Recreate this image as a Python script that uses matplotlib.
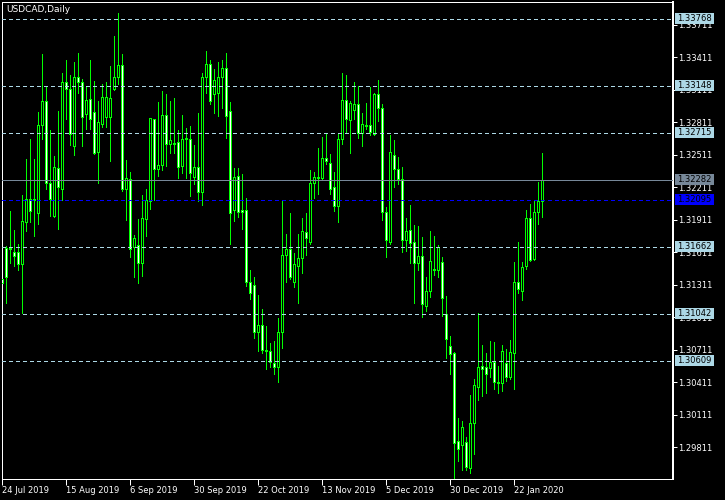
import matplotlib
matplotlib.use("Agg")
import matplotlib.pyplot as plt
from matplotlib.patches import Rectangle
import pandas as pd

title = "USDCAD,Daily"

# trading days (Christmas / New Year closed)
dates = pd.bdate_range("2019-07-24", "2020-01-31")
dates = dates[~dates.isin(pd.to_datetime(["2019-12-25", "2020-01-01"]))]

opens = [1.3136, 1.3165, 1.3165, 1.3161, 1.3161, 1.3150, 1.3189, 1.3210, 1.3210, 1.3197,
         1.3279, 1.3301, 1.3225, 1.3195, 1.3239, 1.3220, 1.3318, 1.3312, 1.3259, 1.3323,
         1.3318, 1.3289, 1.3303, 1.3291, 1.3254, 1.3280, 1.3286, 1.3286, 1.3312, 1.3323,
         1.3334, 1.3220, 1.3229, 1.3166, 1.3168, 1.3151, 1.3192, 1.3208, 1.3284, 1.3238,
         1.3242, 1.3288, 1.3261, 1.3261, 1.3263, 1.3241, 1.3266, 1.3266, 1.3231, 1.3240,
         1.3217, 1.3323, 1.3335, 1.3307, 1.3308, 1.3323, 1.3331, 1.3292, 1.3200, 1.3232,
         1.3200, 1.3200, 1.3134, 1.3131, 1.3087, 1.3094, 1.3071, 1.3070, 1.3059, 1.3055,
         1.3087, 1.3159, 1.3164, 1.3134, 1.3148, 1.3156, 1.3180, 1.3171, 1.3225, 1.3231,
         1.3230, 1.3248, 1.3244, 1.3221, 1.3204, 1.3266, 1.3302, 1.3283, 1.3293, 1.3298,
         1.3271, 1.3279, 1.3279, 1.3270, 1.3307, 1.3294, 1.3198, 1.3171, 1.3251, 1.3238,
         1.3229, 1.3172, 1.3182, 1.3171, 1.3151, 1.3158, 1.3111, 1.3125, 1.3146, 1.3145,
         1.3152, 1.3104, 1.3074, 1.3068, 1.2987, 1.2983, 1.2986, 1.2962, 1.3003, 1.3037,
         1.3056, 1.3055, 1.3054, 1.3060, 1.3041, 1.3040, 1.3059, 1.3046, 1.3068, 1.3134,
         1.3125, 1.3148, 1.3193, 1.3155, 1.3198, 1.3208]
highs = [1.3139, 1.3167, 1.3199, 1.3182, 1.3169, 1.3214, 1.3247, 1.3266, 1.3247, 1.3291,
         1.3344, 1.3314, 1.3274, 1.3250, 1.3292, 1.3327, 1.3339, 1.3325, 1.3337, 1.3345,
         1.3321, 1.3314, 1.3339, 1.3319, 1.3301, 1.3317, 1.3318, 1.3333, 1.3361, 1.3382,
         1.3344, 1.3246, 1.3235, 1.3177, 1.3192, 1.3214, 1.3220, 1.3285, 1.3284, 1.3300,
         1.3310, 1.3307, 1.3301, 1.3304, 1.3274, 1.3288, 1.3276, 1.3278, 1.3260, 1.3290,
         1.3327, 1.3347, 1.3339, 1.3330, 1.3337, 1.3339, 1.3345, 1.3300, 1.3239, 1.3239,
         1.3233, 1.3211, 1.3145, 1.3138, 1.3122, 1.3109, 1.3093, 1.3077, 1.3079, 1.3100,
         1.3208, 1.3178, 1.3197, 1.3160, 1.3178, 1.3193, 1.3197, 1.3237, 1.3235, 1.3257,
         1.3268, 1.3271, 1.3252, 1.3235, 1.3271, 1.3327, 1.3325, 1.3301, 1.3318, 1.3315,
         1.3290, 1.3299, 1.3314, 1.3308, 1.3320, 1.3298, 1.3203, 1.3269, 1.3265, 1.3249,
         1.3240, 1.3193, 1.3205, 1.3186, 1.3185, 1.3175, 1.3138, 1.3181, 1.3176, 1.3168,
         1.3157, 1.3121, 1.3084, 1.3069, 1.3008, 1.3005, 1.2990, 1.3029, 1.3044, 1.3105,
         1.3075, 1.3068, 1.3079, 1.3078, 1.3056, 1.3075, 1.3072, 1.3080, 1.3152, 1.3171,
         1.3152, 1.3200, 1.3206, 1.3209, 1.3226, 1.3253]
lows = [1.3130, 1.3114, 1.3151, 1.3148, 1.3145, 1.3105, 1.3181, 1.3189, 1.3176, 1.3187,
        1.3266, 1.3220, 1.3195, 1.3194, 1.3183, 1.3209, 1.3284, 1.3260, 1.3251, 1.3308,
        1.3259, 1.3275, 1.3275, 1.3252, 1.3225, 1.3277, 1.3277, 1.3245, 1.3311, 1.3317,
        1.3218, 1.3191, 1.3157, 1.3138, 1.3133, 1.3139, 1.3176, 1.3201, 1.3209, 1.3232,
        1.3237, 1.3241, 1.3253, 1.3253, 1.3230, 1.3234, 1.3230, 1.3213, 1.3224, 1.3208,
        1.3205, 1.3308, 1.3298, 1.3290, 1.3287, 1.3294, 1.3267, 1.3169, 1.3190, 1.3194,
        1.3183, 1.3130, 1.3118, 1.3082, 1.3070, 1.3068, 1.3053, 1.3055, 1.3049, 1.3041,
        1.3073, 1.3134, 1.3136, 1.3129, 1.3114, 1.3142, 1.3159, 1.3169, 1.3211, 1.3215,
        1.3228, 1.3243, 1.3215, 1.3199, 1.3189, 1.3261, 1.3272, 1.3253, 1.3284, 1.3267,
        1.3259, 1.3275, 1.3269, 1.3269, 1.3282, 1.3191, 1.3157, 1.3169, 1.3221, 1.3224,
        1.3161, 1.3162, 1.3151, 1.3114, 1.3145, 1.3101, 1.3107, 1.3120, 1.3140, 1.3138,
        1.3102, 1.3063, 1.3049, 1.2950, 1.2968, 1.2960, 1.2960, 1.2957, 1.2975, 1.3025,
        1.3028, 1.3031, 1.3046, 1.3035, 1.3031, 1.3033, 1.3042, 1.3044, 1.3035, 1.3123,
        1.3117, 1.3146, 1.3153, 1.3154, 1.3187, 1.3194]
closes = [1.3133, 1.3138, 1.3164, 1.3158, 1.3150, 1.3190, 1.3210, 1.3199, 1.3209, 1.3279,
          1.3301, 1.3225, 1.3210, 1.3240, 1.3221, 1.3318, 1.3312, 1.3270, 1.3323, 1.3318,
          1.3286, 1.3302, 1.3284, 1.3253, 1.3281, 1.3305, 1.3305, 1.3304, 1.3323, 1.3334,
          1.3220, 1.3230, 1.3164, 1.3174, 1.3151, 1.3193, 1.3209, 1.3285, 1.3238, 1.3242,
          1.3288, 1.3261, 1.3265, 1.3262, 1.3240, 1.3266, 1.3267, 1.3234, 1.3240, 1.3217,
          1.3323, 1.3335, 1.3301, 1.3320, 1.3323, 1.3331, 1.3287, 1.3197, 1.3231, 1.3198,
          1.3198, 1.3134, 1.3123, 1.3087, 1.3094, 1.3071, 1.3070, 1.3060, 1.3055, 1.3087,
          1.3159, 1.3164, 1.3138, 1.3150, 1.3156, 1.3181, 1.3174, 1.3225, 1.3231, 1.3230,
          1.3248, 1.3245, 1.3220, 1.3204, 1.3266, 1.3302, 1.3284, 1.3299, 1.3298, 1.3271,
          1.3280, 1.3278, 1.3272, 1.3307, 1.3294, 1.3198, 1.3172, 1.3254, 1.3238, 1.3229,
          1.3172, 1.3181, 1.3170, 1.3151, 1.3158, 1.3113, 1.3125, 1.3153, 1.3145, 1.3166,
          1.3119, 1.3081, 1.3067, 1.2985, 1.2979, 1.3000, 1.2963, 1.3003, 1.3038, 1.3055,
          1.3053, 1.3049, 1.3060, 1.3041, 1.3040, 1.3070, 1.3046, 1.3069, 1.3134, 1.3127,
          1.3147, 1.3193, 1.3154, 1.3198, 1.3208, 1.3228]

level_prices = [1.33768, 1.33148, 1.32715, 1.31662, 1.31042, 1.30609]
bid_price = 1.32282
blue_price = 1.32095
price_ticks = [1.33711, 1.33411, 1.33111, 1.32811, 1.32511, 1.32211, 1.31911,
               1.31611, 1.31311, 1.31011, 1.30711, 1.30411, 1.30111, 1.29811]
date_tick_idx = [0, 16, 32, 48, 64, 80, 96, 112, 128]

GREEN = "#00ff00"
LBLUE = "#add8e6"
GRAY = "#778899"
BLUE = "#0000ff"
PX = 0.72  # one pixel in points at 100 dpi

W, H = 725, 500
fig = plt.figure(figsize=(W / 100, H / 100), dpi=100, facecolor="black")
ax = fig.add_axes([2 / W, 1 - 479 / H, 671 / W, 477 / H])
ax.set_facecolor("black")
ax.set_xlim(-0.075, 167.675)
ylo, yhi = 1.295155, 1.339235
ax.set_ylim(ylo, yhi)

# candles
for i in range(len(opens)):
    o, h, l, c = opens[i], highs[i], lows[i], closes[i]
    ax.vlines(i, l, h, color=GREEN, lw=PX, antialiased=False, zorder=2)
    face = "white" if c < o else "black"
    ax.add_patch(Rectangle((i - 0.25, min(o, c)), 0.5, abs(c - o), facecolor=face,
                           edgecolor=GREEN, lw=PX, antialiased=False, zorder=3))

# horizontal levels
for p in level_prices:
    ax.axhline(p, color=LBLUE, lw=PX, ls=(0, (4, 3)), antialiased=False, zorder=4)
ax.axhline(bid_price, color=GRAY, lw=PX, antialiased=False, zorder=4)
ax.axhline(blue_price, color=BLUE, lw=PX, ls=(0, (4, 3)), antialiased=False, zorder=4)

# spines
for s in ["left", "top", "bottom"]:
    ax.spines[s].set_color("white")
    ax.spines[s].set_linewidth(PX)
ax.spines["right"].set_color("white")
ax.spines["right"].set_linewidth(2 * PX)

# axes ticks
ax.yaxis.tick_right()
ax.set_yticks(price_ticks)
ax.set_yticklabels([f"{p:.5f}" for p in price_ticks])
ax.tick_params(axis="y", colors="white", length=3, width=PX, pad=1, labelsize=6)
ax.set_xticks(date_tick_idx)
ax.set_xticklabels([f"{dates[k].day} {dates[k].strftime('%b %Y')}" for k in date_tick_idx])
ax.tick_params(axis="x", colors="white", length=4, width=PX, pad=1, labelsize=6)
for lab in ax.get_xticklabels():
    lab.set_ha("left")

fig.text(6 / W, 1 - 10 / H, title, color="white", fontsize=6.5, ha="left", va="center")

# price label boxes on the right
ax2 = fig.add_axes([675 / W, 1 - 479 / H, 40 / W, 477 / H])
ax2.set_xlim(0, 40)
ax2.set_ylim(ylo, yhi)
ax2.axis("off")
ax2.patch.set_alpha(0)
hh = 11 * (yhi - ylo) / 477
boxes = [(p, LBLUE) for p in level_prices] + [(bid_price, GRAY), (blue_price, BLUE)]
for p, col in boxes:
    ax2.add_patch(Rectangle((0, p - hh / 2), 39, hh, facecolor=col, edgecolor="none"))
    ax2.text(2, p, f"{p:.5f}", fontsize=6, color="black", ha="left", va="center")

fig.savefig("out.png", dpi=100, facecolor="black")
